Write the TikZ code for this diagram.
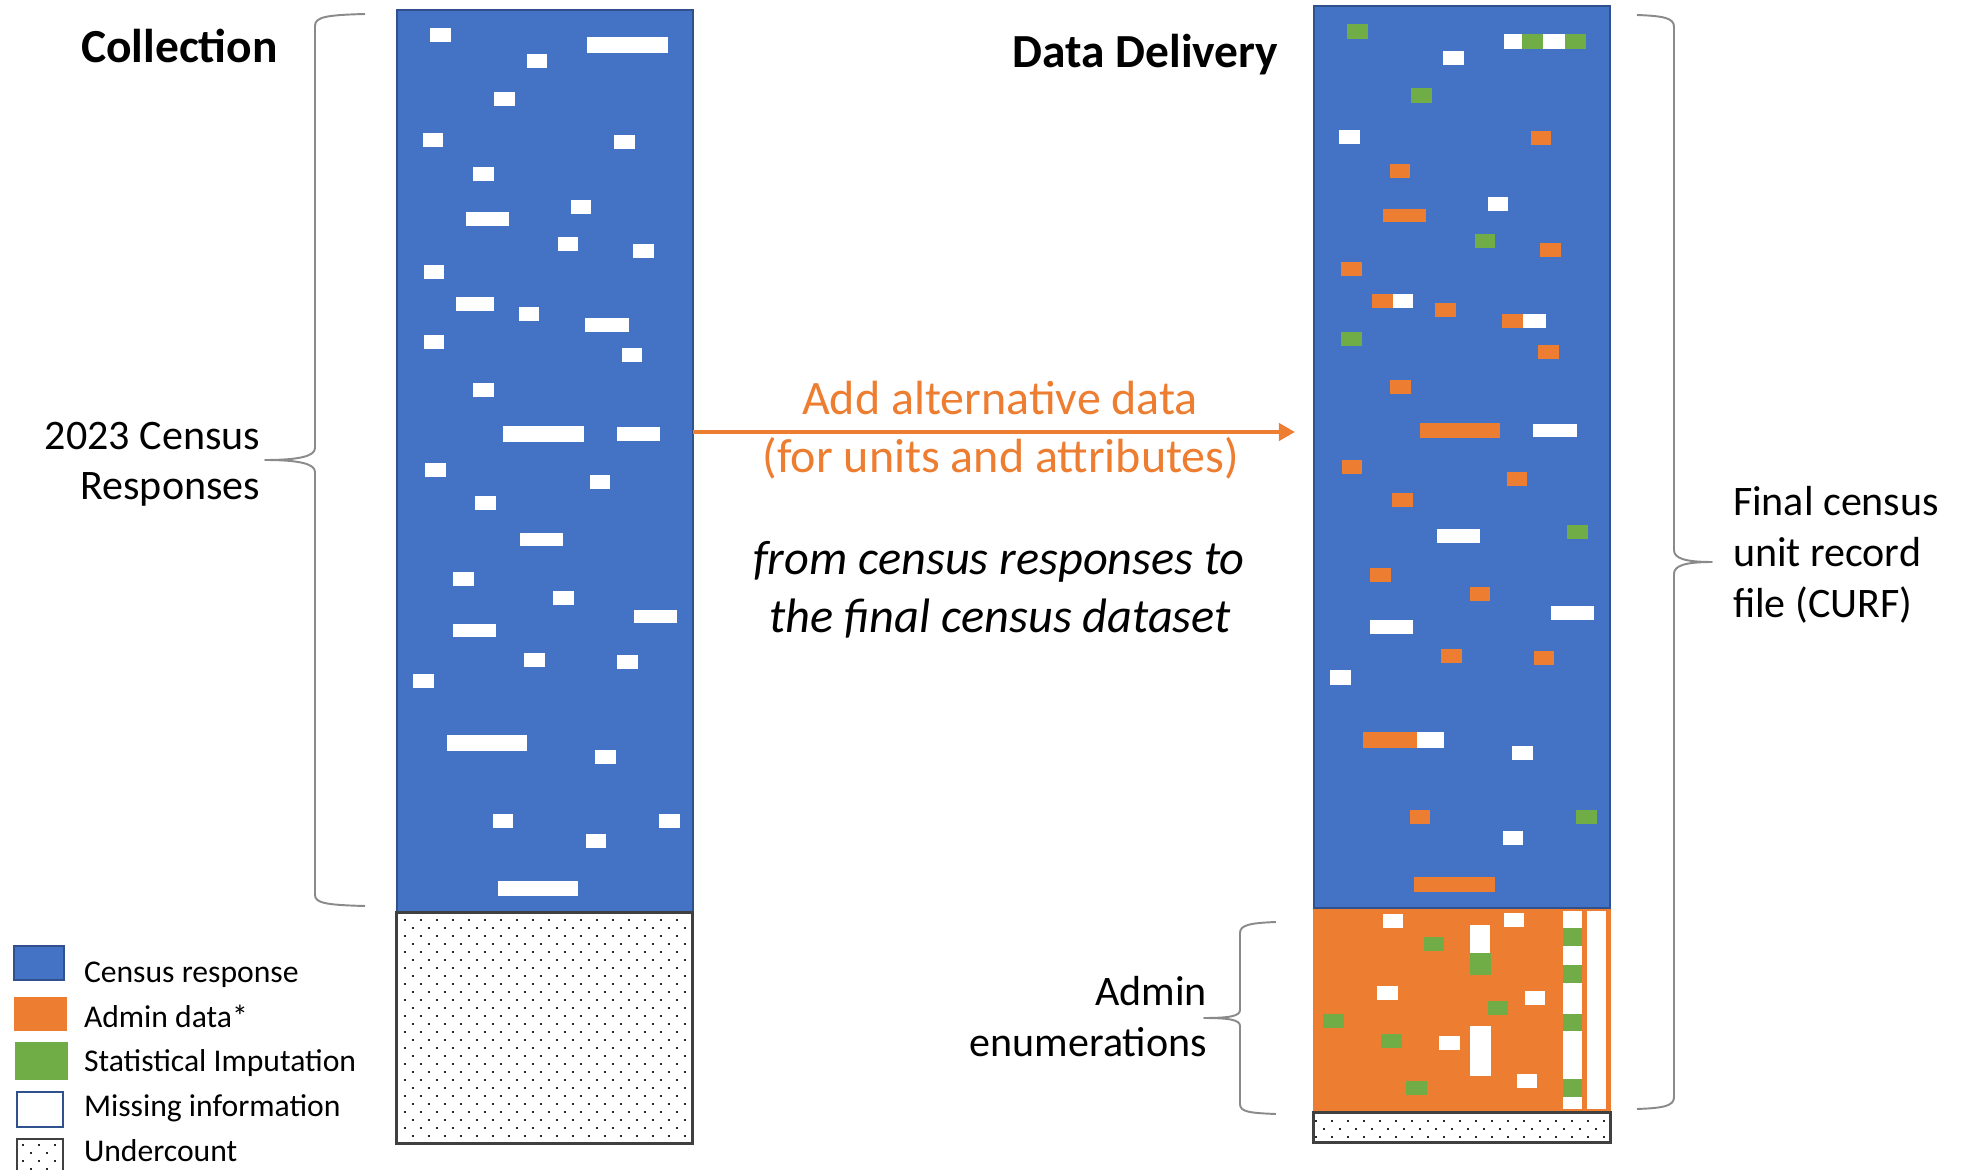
\documentclass[tikz,border=0pt]{standalone}
\usepackage{fontspec}
\setmainfont{Carlito}
\usetikzlibrary{arrows.meta}

\definecolor{censusblue}{HTML}{4472C4}
\definecolor{censusedge}{HTML}{2F528F}
\definecolor{admin}{HTML}{ED7D31}
\definecolor{imput}{HTML}{70AD47}
\definecolor{undergray}{HTML}{404040}
\definecolor{bracegray}{HTML}{8A8A8A}
\definecolor{dotgray}{HTML}{2A2A2A}

\begin{document}
\begin{tikzpicture}[x=0.01cm, y=-0.01cm,
  every node/.style={inner sep=0pt, outer sep=0pt},
  titletxt/.style={font=\fontsize{13.5}{16}\selectfont\bfseries, anchor=base},
  sidetxt/.style={font=\fontsize{11.95}{14.5}\selectfont},
  legendtxt/.style={font=\fontsize{9}{11}\selectfont, anchor=base west},
  flowtxt/.style={font=\fontsize{13.65}{16}\selectfont, text=admin, anchor=base},
  notetxt/.style={font=\fontsize{13.75}{16}\selectfont\itshape, anchor=base},
  column/.style={draw=censusedge, line width=0.6pt, fill=censusblue, minimum width=2.96cm},
  adminbox/.style={draw=admin, line width=0.6pt, fill=admin, minimum width=2.96cm},
  undercount/.style={draw=undergray, line width=0.85pt, fill=white, minimum width=2.96cm},
  wbox/.style={fill=white},
  obox/.style={fill=admin},
  gbox/.style={fill=imput},
  bracepath/.style={draw=bracegray, line width=0.55pt, line join=round},
  flowarrow/.style={draw=admin, line width=1.1pt, -{Triangle[length=0.16cm, width=0.17cm]}}
]
\useasboundingbox (0,0) rectangle (1962,1170);

% ---------- left column: collection ----------
\node[column, minimum height=9.017cm] (collect) at (544.7,460.9) {};
\foreach \a/\b/\c/\d in {
  430/28/451/42, 587/37/668/53, 527/54/547/68, 494/92/515/106,
  423/133/443/147, 614/135/635/149, 473/167/494/181, 571/200/591/214,
  466/212/509/226, 558/237/578/251, 633/244/654/258, 424/265/444/279,
  456/297/494/311, 519/307/539/321, 585/318/629/332, 424/335/444/349,
  622/348/642/362, 473/383/494/397, 503/426/584/442, 617/427/660/441,
  425/463/446/477, 590/475/610/489, 475/496/496/510, 520/533/563/546,
  453/572/474/586, 553/591/574/605, 634/610/677/623, 453/624/496/637,
  524/653/545/667, 617/655/638/669, 413/674/434/688, 447/735/527/751,
  595/750/616/764, 493/814/513/828, 659/814/680/828, 586/834/606/848,
  498/881/578/896}
  \fill[wbox] (\a,\b) rectangle (\c,\d);

\node[undercount, minimum height=2.30cm] (gapL) at (544.7,1028) {};
\foreach \r in {0,...,27}{
  \pgfmathsetmacro{\dy}{920+8*\r}
  \pgfmathsetmacro{\dx}{405+8*mod(\r,2)}
  \foreach \c in {0,...,17}
    \fill[dotgray] ({\dx+16*\c-1.2},{\dy-1.2}) rectangle ++(2.4,2.4);
}

% ---------- right column: data delivery ----------
\node[adminbox, minimum height=2.05cm] (adminpart) at (1462,1010.5) {};
\node[column, minimum height=9.02cm] (deliver) at (1462,457) {};

% white cells in the census part
\foreach \a/\b/\c/\d in {
  1504/34/1522/49, 1543/34/1565/49, 1443/51/1464/65, 1339/130/1360/144,
  1488/197/1508/211, 1393/294/1413/308, 1523/314/1546/328, 1533/424/1577/437,
  1437/529/1480/543, 1551/606/1594/620, 1370/620/1413/634, 1330/670/1351/685,
  1417/732/1444/748, 1512/746/1533/760, 1503/831/1523/845}
  \fill[wbox] (\a,\b) rectangle (\c,\d);
% imputed cells in the census part
\foreach \a/\b/\c/\d in {
  1347/24/1368/39, 1522/34/1543/49, 1565/34/1586/49, 1411/88/1432/103,
  1475/234/1495/248, 1341/332/1362/346, 1567/525/1588/539, 1576/810/1597/824}
  \fill[gbox] (\a,\b) rectangle (\c,\d);
% admin cells in the census part
\foreach \a/\b/\c/\d in {
  1531/131/1551/145, 1390/164/1410/178, 1383/209/1426/222, 1540/243/1561/257,
  1341/262/1362/276, 1372/294/1393/308, 1435/303/1456/317, 1502/314/1523/328,
  1538/345/1559/359, 1390/380/1411/394, 1420/423/1500/438, 1342/460/1362/474,
  1507/472/1527/486, 1392/493/1413/507, 1370/568/1391/582, 1470/587/1490/601,
  1441/649/1462/663, 1534/651/1554/665, 1363/732/1417/748, 1410/810/1430/824,
  1414/877/1495/892}
  \fill[obox] (\a,\b) rectangle (\c,\d);

% cells in the admin enumerations part
\foreach \a/\b/\c/\d in {
  1383/914/1403/928, 1504/913/1524/927, 1470/925/1490/953, 1377/986/1398/1000,
  1525/991/1545/1005, 1470/1026/1491/1076, 1439/1036/1460/1050, 1517/1074/1537/1088,
  1563/911/1582/928, 1563/946/1582/965, 1563/983/1582/1014, 1563/1031/1582/1079,
  1563/1097/1582/1109, 1587/911/1606/1109}
  \fill[wbox] (\a,\b) rectangle (\c,\d);
\foreach \a/\b/\c/\d in {
  1470/953/1491/975, 1424/937/1444/951, 1488/1001/1508/1015, 1323/1014/1344/1028,
  1381/1034/1402/1048, 1406/1081/1427/1095,
  1563/928/1582/946, 1563/965/1582/983, 1563/1014/1582/1031, 1563/1079/1582/1097}
  \fill[gbox] (\a,\b) rectangle (\c,\d);

\node[undercount, minimum height=0.29cm] (gapR) at (1462,1127.5) {};
\foreach \c in {0,...,18}
  \fill[dotgray] ({1316+16*\c-1.2},1119.5) rectangle ++(2.4,2.4);
\foreach \c in {0,...,17}
  \fill[dotgray] ({1324+16*\c-1.2},1127.5) rectangle ++(2.4,2.4);
\foreach \c in {0,...,18}
  \fill[dotgray] ({1316+16*\c-1.2},1135.5) rectangle ++(2.4,2.4);

% ---------- titles ----------
\node[titletxt] (ttlcollect) at (179.5,62.5) {Collection};
\node[titletxt] (ttldeliver) at (1145.5,67.5) {Data Delivery};

% ---------- braces and their labels ----------
\draw[bracepath] (365,14) .. controls (326,15) and (315,17) .. (315,26)
  -- (315,448) .. controls (315,456) and (300,460) .. (265,460)
  .. controls (300,460) and (315,464) .. (315,472)
  -- (315,895) .. controls (315,903) and (326,905) .. (365,906);
\node[sidetxt, anchor=base east] (resp1) at (260,449) {2023 Census};
\node[sidetxt, anchor=base east] (resp2) at (260,500) {Responses};

\draw[bracepath] (1637,15) .. controls (1664,16) and (1674,18) .. (1674,27)
  -- (1674,550) .. controls (1674,558) and (1684,562) .. (1712,562)
  .. controls (1684,562) and (1674,566) .. (1674,574)
  -- (1674,1097) .. controls (1674,1106) and (1664,1108) .. (1637,1109);
\node[sidetxt, anchor=base west] (curf1) at (1733,516) {Final census};
\node[sidetxt, anchor=base west] (curf2) at (1733,567) {unit record};
\node[sidetxt, anchor=base west] (curf3) at (1733,618) {file (CURF)};

\draw[bracepath] (1276,922) .. controls (1250,923) and (1240,925) .. (1240,933)
  -- (1240,1010) .. controls (1240,1016) and (1230,1018) .. (1204,1018)
  .. controls (1230,1018) and (1240,1020) .. (1240,1026)
  -- (1240,1104) .. controls (1240,1112) and (1250,1113) .. (1276,1114);
\node[sidetxt, anchor=base east] (enum1) at (1207,1005) {Admin};
\node[sidetxt, anchor=base east] (enum2) at (1207,1057) {enumerations};

% ---------- flow arrow and captions ----------
\coordinate (arrowend) at (1295,432);
\draw[flowarrow] (collect.east |- arrowend) -- (arrowend);
\node[flowtxt] (flow1) at (1000,415) {Add alternative data};
\node[flowtxt] (flow2) at (1001,472) {(for units and attributes)};
\node[notetxt] (note1) at (999,575) {from census responses to};
\node[notetxt] (note2) at (1000,633) {the final census dataset};

% ---------- legend ----------
\draw[fill=censusblue, draw=censusedge, line width=0.6pt] (14,946) rectangle (64,980);
\fill[admin] (14,997) rectangle (67,1031);
\fill[imput] (15,1042) rectangle (68,1080);
\draw[fill=white, draw=censusedge, line width=0.75pt] (17,1092) rectangle (63,1127);
\draw[fill=white, draw=undergray, line width=0.85pt] (17,1139) rectangle (63,1175);
\foreach \px/\py in {23/1145, 39/1145, 55/1145, 31/1153, 47/1153,
                     23/1161, 39/1161, 55/1161, 31/1169, 47/1169}
  \fill[dotgray] ({\px-1.2},{\py-1.2}) rectangle ++(2.4,2.4);
\node[legendtxt] (lg1) at (84,982) {Census response};
\node[legendtxt] (lg2) at (84,1027.5) {Admin data*};
\node[legendtxt] (lg3) at (84,1071.5) {Statistical Imputation};
\node[legendtxt] (lg4) at (84,1116) {Missing information};
\node[legendtxt] (lg5) at (84,1161) {Undercount};
\end{tikzpicture}
\end{document}
